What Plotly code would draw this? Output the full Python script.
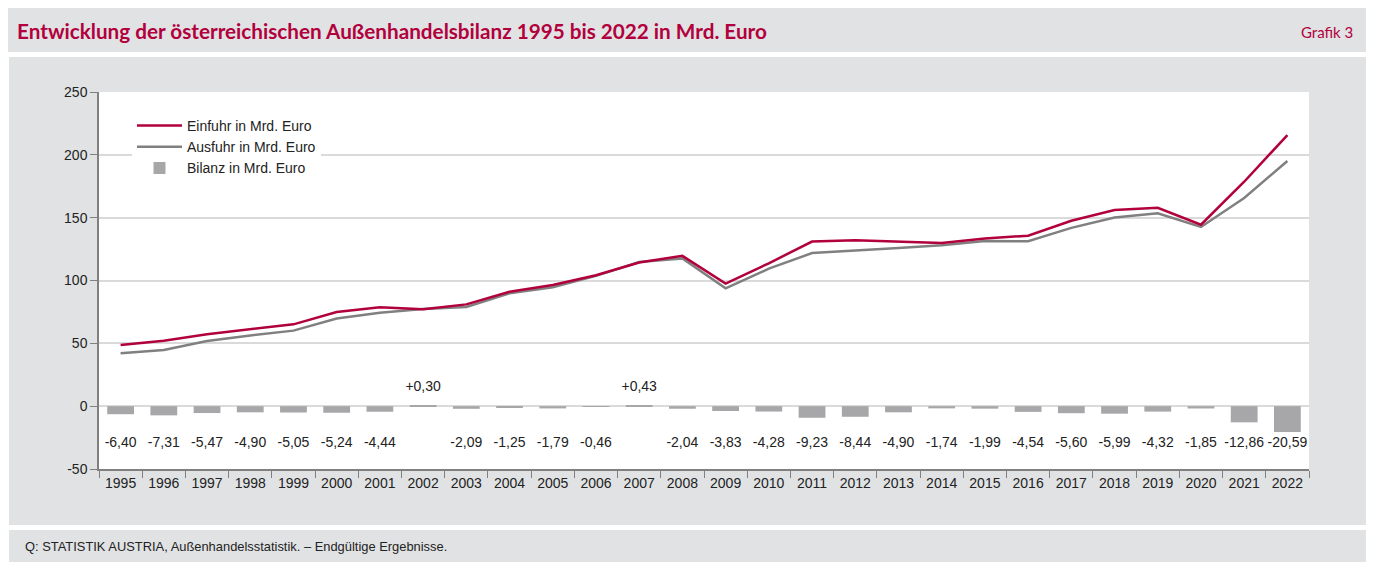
import plotly.graph_objects as go

years = [str(y) for y in range(1995, 2023)]
einfuhr = [48.6, 52.0, 57.3, 61.2, 65.1, 74.9, 78.7, 77.1, 81.0, 91.1, 96.5, 104.2, 114.3, 119.6,
           97.6, 113.7, 131.0, 132.0, 130.7, 129.8, 133.5, 135.7, 147.5, 156.1, 157.8, 144.4, 178.6, 215.7]
ausfuhr = [42.2, 44.7, 51.8, 56.3, 60.1, 69.7, 74.3, 77.4, 78.9, 89.8, 94.7, 103.7, 114.7, 117.6,
           93.8, 109.4, 121.8, 123.6, 125.8, 128.1, 131.5, 131.2, 141.9, 150.1, 153.5, 142.6, 165.7, 195.1]
bilanz = [-6.40, -7.31, -5.47, -4.90, -5.05, -5.24, -4.44, 0.30, -2.09, -1.25, -1.79, -0.46, 0.43, -2.04,
          -3.83, -4.28, -9.23, -8.44, -4.90, -1.74, -1.99, -4.54, -5.60, -5.99, -4.32, -1.85, -12.86, -20.59]
y_ticks = [-50, 0, 50, 100, 150, 200, 250]
y_ticktext = ["-50", "0", "50", "100", "150", "200", "250"]

CRIMSON = "#b2003c"
LINEGRAY = "#808080"
BARGRAY = "#a7a7a9"
PANEL = "#e1e2e4"
TXT = "#222222"
FONT = "Liberation Sans, Arial, sans-serif"
COND = "Lato, Liberation Sans, sans-serif"

# page has an 8px body margin; all coordinates below are in page pixels
OFF = 8
W, H = 1374 - OFF, 562 - OFF
L, R, T, B = 99, 1309, 92, 469


def px(x):
    return (x - L) / (R - L)


def py(y):
    return (B - y) / (B - T)


def fmt(v):
    return ("+" if v > 0 else "") + f"{v:.2f}".replace(".", ",")


fig = go.Figure()
fig.add_trace(go.Bar(x=years, y=bilanz, name="Bilanz in Mrd. Euro", marker=dict(color=BARGRAY, line_width=0),
                     width=0.62, legendrank=3))
fig.add_trace(go.Scatter(x=years, y=ausfuhr, name="Ausfuhr in Mrd. Euro", mode="lines",
                         line=dict(color=LINEGRAY, width=2.5), legendrank=2))
fig.add_trace(go.Scatter(x=years, y=einfuhr, name="Einfuhr in Mrd. Euro", mode="lines",
                         line=dict(color=CRIMSON, width=2.5), legendrank=1))
fig.add_trace(go.Scatter(x=years, y=[-29.5 if v < 0 else 15 for v in bilanz], mode="text",
                         text=[fmt(v) for v in bilanz], textfont=dict(size=14, color=TXT, family=FONT),
                         showlegend=False, hoverinfo="skip", cliponaxis=False))

shapes = [
    dict(type="rect", xref="paper", yref="paper", x0=px(6), x1=px(1380), y0=py(52), y1=py(7),
         fillcolor=PANEL, line_width=0, layer="below"),
    dict(type="rect", xref="paper", yref="paper", x0=px(9), x1=px(1370), y0=py(525), y1=py(57),
         fillcolor=PANEL, line_width=0, layer="below"),
    dict(type="rect", xref="paper", yref="paper", x0=px(9), x1=px(1370), y0=py(570), y1=py(530),
         fillcolor=PANEL, line_width=0, layer="below"),
    dict(type="rect", xref="paper", yref="paper", x0=0, x1=1, y0=0, y1=1,
         fillcolor="white", line_width=0, layer="below"),
]

annotations = [
    dict(text="<b>Entwicklung der österreichischen Außenhandelsbilanz 1995 bis 2022 in Mrd. Euro</b>",
         xref="paper", yref="paper", x=px(15), y=py(31), xanchor="left", yanchor="middle", showarrow=False,
         font=dict(family=COND, size=20.7, color=CRIMSON)),
    dict(text="Grafik 3", xref="paper", yref="paper", x=px(1355), y=py(32), xanchor="right", yanchor="middle",
         showarrow=False, font=dict(family=COND, size=15, color=CRIMSON)),
    dict(text="Q: STATISTIK AUSTRIA, Außenhandelsstatistik. – Endgültige Ergebnisse.",
         xref="paper", yref="paper", x=px(23), y=py(546), xanchor="left", yanchor="middle", showarrow=False,
         font=dict(family=FONT, size=12.9, color=TXT)),
]

fig.update_layout(
    width=W, height=H,
    margin=dict(l=L - OFF, r=1374 - R, t=T - OFF, b=562 - B),
    paper_bgcolor="white", plot_bgcolor="rgba(0,0,0,0)",
    font=dict(family=FONT, size=14, color=TXT),
    showlegend=True,
    legend=dict(x=px(132), y=py(110), xanchor="left", yanchor="top", bgcolor="white",
                font=dict(family=FONT, size=14, color=TXT), itemwidth=45, tracegroupgap=0,
                traceorder="normal"),
    shapes=shapes,
    annotations=annotations,
    xaxis=dict(type="category", tickson="boundaries", ticks="outside", ticklen=7, tickcolor="#808080",
               showline=True, linecolor="#808080", linewidth=1.5, showgrid=False,
               tickfont=dict(size=14, color=TXT), range=[-0.5, 27.5]),
    yaxis=dict(range=[-50, 250], tickvals=y_ticks, ticktext=y_ticktext, ticks="outside", ticklen=7,
               tickcolor="#808080", showline=True, linecolor="#808080", linewidth=1.5, showgrid=True,
               gridcolor="#dadada", gridwidth=1.5, zeroline=True, zerolinecolor="#dadada", zerolinewidth=1.5,
               tickfont=dict(size=14, color=TXT)),
)

fig.write_html("out.html")
